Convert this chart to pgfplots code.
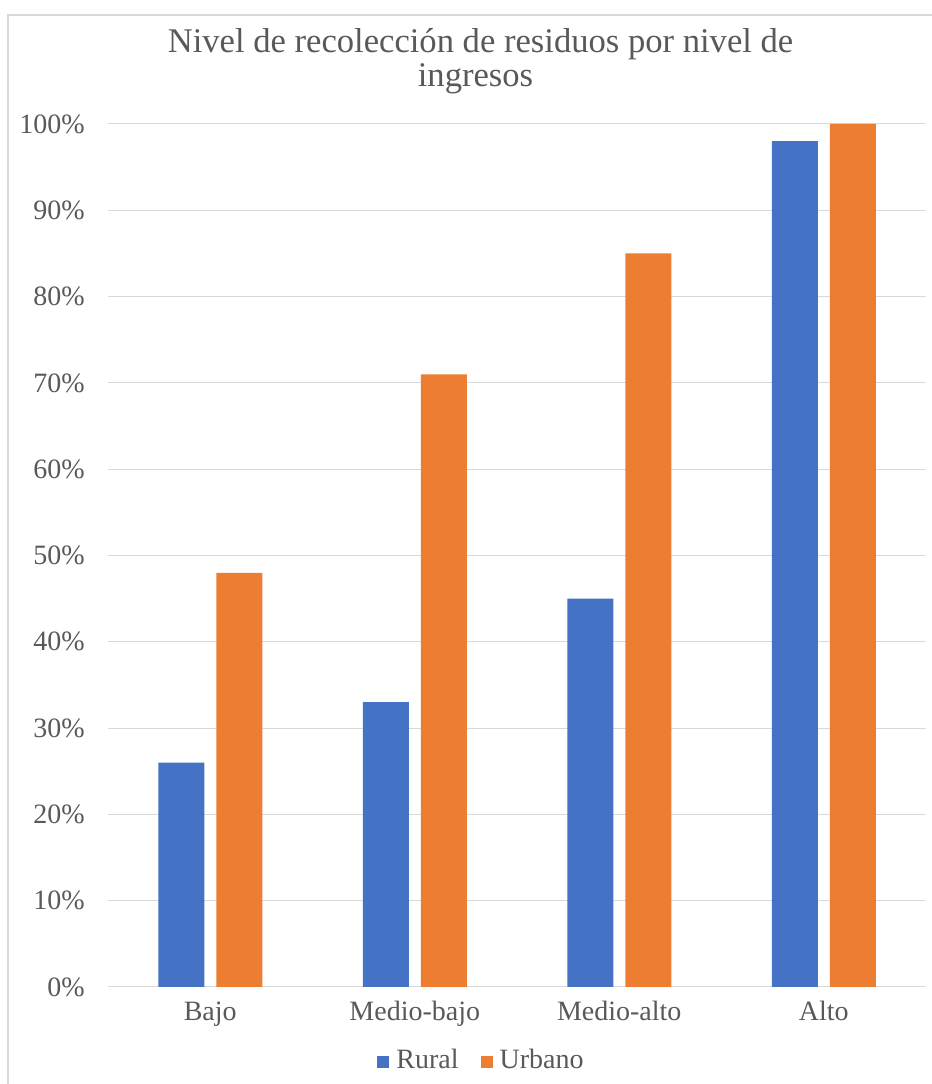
\documentclass[border=0pt]{standalone}
\usepackage{pgfplots}
\pgfplotsset{compat=1.18}
\usepackage{fontspec}
\setmainfont{Liberation Serif}
\definecolor{rural}{HTML}{4472C4}
\definecolor{urbano}{HTML}{ED7D31}
\definecolor{gridc}{HTML}{D9D9D9}
\definecolor{txt}{HTML}{595959}
\begin{document}
\begin{tikzpicture}[x=1bp,y=1bp]
\useasboundingbox (0,0) rectangle (932,1084);
\draw[gridc, line width=1.5bp] (8,0) -- (8,1069) -- (932,1069);
\node[txt, font=\fontsize{34.6bp}{36bp}\selectfont, anchor=base, inner sep=0] at (480.5,1031) {Nivel de recolección de residuos por nivel de};
\node[txt, font=\fontsize{34.6bp}{36bp}\selectfont, anchor=base, inner sep=0] at (475.5,997) {ingresos};
\begin{axis}[
  at={(108bp,97bp)}, anchor=south west,
  scale only axis, width=818bp, height=863bp,
  ybar=12bp, bar width=46bp,
  xmin=-0.5, xmax=3.5, ymin=0, ymax=100,
  xtick={0,1,2,3}, xticklabels={Bajo,Medio-bajo,Medio-alto,Alto},
  ytick={0,10,...,100},
  ymajorgrids, grid style={gridc, line width=1bp},
  axis line style={draw=none},
  major tick length=0,
  tick label style={text=txt, font=\fontsize{28bp}{34bp}\selectfont},
  yticklabel={\pgfmathprintnumber{\tick}\%},
  /pgf/number format/assume math mode=true,
  yticklabel style={anchor=east, inner sep=0, xshift=-23bp},
  xticklabel style={anchor=north, inner sep=0, text height=20bp, text depth=6bp, yshift=-13bp},
  legend columns=2,
  legend style={at={(0.4554,0)}, anchor=north, yshift=-62bp, draw=none, fill=none,
    inner sep=0, outer sep=0, text=txt, font=\fontsize{28bp}{34bp}\selectfont,
    nodes={inner sep=0, text height=19bp, text depth=0bp},
    /tikz/every odd column/.append style={column sep=7bp},
    /tikz/every even column/.append style={column sep=22bp}},
]
\addplot[fill=rural, draw=none, legend image code/.code={\fill[rural] (0bp,-9.5bp) rectangle (12bp,2.5bp);}] coordinates {(0,26) (1,33) (2,45) (3,98)};
\addplot[fill=urbano, draw=none, legend image code/.code={\fill[urbano] (0bp,-9.5bp) rectangle (12bp,2.5bp);}] coordinates {(0,48) (1,71) (2,85) (3,100)};
\legend{Rural,Urbano}
\end{axis}
\end{tikzpicture}
\end{document}
